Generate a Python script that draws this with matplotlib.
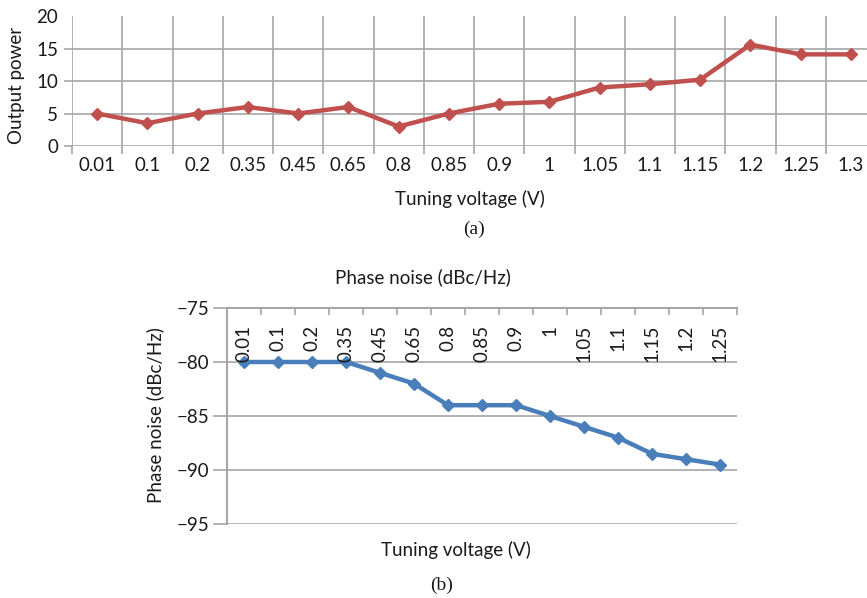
import numpy as np
import matplotlib
matplotlib.use("Agg")
import matplotlib.pyplot as plt
from matplotlib.transforms import blended_transform_factory

plt.rcParams['font.family'] = ['Lato', 'DejaVu Sans']

# (a) output power vs tuning voltage
volt_a = ['0.01', '0.1', '0.2', '0.35', '0.45', '0.65', '0.8', '0.85', '0.9',
          '1', '1.05', '1.1', '1.15', '1.2', '1.25', '1.3']
power = [5, 3.5, 5, 6, 5, 6, 3, 5, 6.5, 6.8, 9, 9.5, 10.2, 15.6, 14.1, 14.1]

# (b) phase noise vs tuning voltage
volt_b = ['0.01', '0.1', '0.2', '0.35', '0.45', '0.65', '0.8', '0.85', '0.9',
          '1', '1.05', '1.1', '1.15', '1.2', '1.25']
noise = [-80, -80, -80, -80, -81, -82, -84, -84, -84, -85, -86, -87, -88.5, -89, -89.5]

W, H = 867, 598
fig = plt.figure(figsize=(W / 100, H / 100), dpi=100)
grid_c = '#a6a6a6'
txt_c = '#1a1a1a'
fs = 13.5

# ---- top chart ----
ax1 = fig.add_axes([72 / W, 1 - 146 / H, 804 / W, 130 / H])
x1 = np.arange(len(volt_a))
ax1.plot(x1, power, color='#c0504d', lw=3.2, marker='D', ms=6.5)
ax1.set_xlim(-0.5, len(volt_a) - 0.5)
ax1.set_ylim(0, 20)
ax1.set_xticks(x1)
ax1.set_xticklabels(volt_a, fontsize=fs, color=txt_c)
ax1.set_xticks(np.arange(-0.5, len(volt_a), 1), minor=True)
ax1.set_yticks([0, 5, 10, 15, 20])
ax1.tick_params(axis='x', which='major', length=0, pad=8)
ax1.tick_params(axis='x', which='minor', length=6, width=1.2, color=grid_c, direction='out')
ax1.tick_params(axis='y', length=6, width=1.2, color=grid_c, labelsize=fs, labelcolor=txt_c, pad=4)
ax1.grid(True, axis='x', which='minor', color=grid_c, lw=1.2)
ax1.grid(True, axis='y', which='major', color=grid_c, lw=1.2)
for s in ax1.spines.values():
    s.set_visible(False)
ax1.set_axisbelow(True)
fig.canvas.draw()
ax1.yaxis.get_gridlines()[-1].set_visible(False)
ax1.yaxis.get_major_ticks()[-1].tick1line.set_visible(False)

fig.text(17 / W, 1 - 85 / H, 'Output power', rotation=90, ha='center', va='center',
         fontsize=fs, color=txt_c)
fig.text(470 / W, 1 - 199 / H, 'Tuning voltage (V)', ha='center', va='center',
         fontsize=fs, color=txt_c)
fig.text(474 / W, 1 - 229 / H, '(a)', ha='center', va='center', fontsize=14,
         family='Liberation Serif', color=txt_c)

# ---- bottom chart ----
ax2 = fig.add_axes([227 / W, 1 - 524 / H, 510 / W, 216 / H])
x2 = np.arange(len(volt_b))
ax2.plot(x2, noise, color='#4a7ebb', lw=3.2, marker='D', ms=6.5)
ax2.set_xlim(-0.5, len(volt_b) - 0.5)
ax2.set_ylim(-95, -75)
ax2.set_yticks([-95, -90, -85, -80, -75])
ax2.set_yticklabels(['\u221295', '\u221290', '\u221285', '\u221280', '\u221275'])
ax2.xaxis.tick_top()
ax2.set_xticks(np.arange(-0.5, len(volt_b), 1))
ax2.set_xticklabels([])
ax2.tick_params(axis='x', length=5, width=1.2, color=grid_c, direction='in')
ax2.tick_params(axis='y', length=10, width=1.2, color=grid_c, labelsize=fs,
                labelcolor=txt_c, pad=3)
ax2.grid(True, axis='y', color=grid_c, lw=1.2)
for k in ['right', 'bottom']:
    ax2.spines[k].set_visible(False)
for k in ['top', 'left']:
    ax2.spines[k].set_color(grid_c)
    ax2.spines[k].set_linewidth(1.5)
ax2.set_axisbelow(True)
trans = blended_transform_factory(ax2.transData, ax2.transAxes)
for xi, lab in zip(x2, volt_b):
    ax2.text(xi, 0.921, lab, rotation=90, ha='center', va='top', fontsize=fs,
             color=txt_c, transform=trans)

fig.text(423 / W, 1 - 277 / H, 'Phase noise (dBc/Hz)', ha='center', va='center',
         fontsize=fs, color=txt_c)
fig.text(155 / W, 1 - 415 / H, 'Phase noise (dBc/Hz)', rotation=90, ha='center',
         va='center', fontsize=fs, color=txt_c)
fig.text(456 / W, 1 - 550 / H, 'Tuning voltage (V)', ha='center', va='center',
         fontsize=fs, color=txt_c)
fig.text(442 / W, 1 - 585 / H, '(b)', ha='center', va='center', fontsize=14,
         family='Liberation Serif', color=txt_c)

fig.savefig('out.png', dpi=100)
